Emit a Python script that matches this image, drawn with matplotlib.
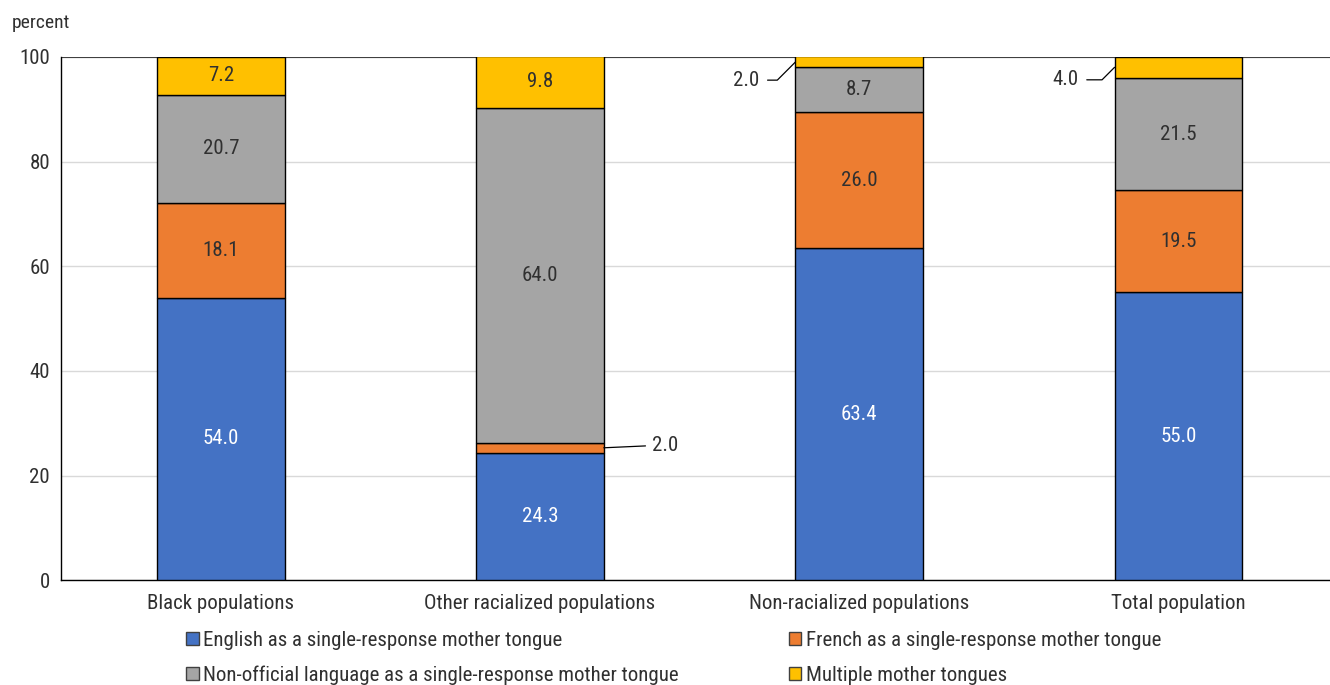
import numpy as np
import matplotlib
matplotlib.use('Agg')
import matplotlib.pyplot as plt
from matplotlib import font_manager
from matplotlib.patches import Patch

# font: condensed look if possible
names = {f.name for f in font_manager.fontManager.ttflist}
fam = 'DejaVu Sans'
for cand in ['Roboto Condensed', 'Liberation Sans Narrow', 'Roboto', 'Liberation Sans']:
    if cand in names:
        fam = cand
        break
plt.rcParams['font.family'] = [fam, 'DejaVu Sans']

categories = ['Black populations', 'Other racialized populations',
              'Non-racialized populations', 'Total population']
series_names = ['English as a single-response mother tongue',
                'French as a single-response mother tongue',
                'Non-official language as a single-response mother tongue',
                'Multiple mother tongues']
english = [54.0, 24.3, 63.4, 55.0]
french = [18.1, 2.0, 26.0, 19.5]
nonofficial = [20.7, 64.0, 8.7, 21.5]
multiple = [7.2, 9.8, 2.0, 4.0]
yticks = [0, 20, 40, 60, 80, 100]

colors = ['#4472C4', '#ED7D31', '#A5A5A5', '#FFC000']
txt = '#303030'
fs = 15

fig = plt.figure(figsize=(13.3, 6.85), dpi=100)
ax = fig.add_axes([0.046, 0.153, 0.96, 0.764])

x = np.arange(len(categories))
w = 0.4
bottom = np.zeros(len(categories))
data = [english, french, nonofficial, multiple]
for i, vals in enumerate(data):
    vals = np.array(vals)
    ax.bar(x, vals, w, bottom=bottom, color=colors[i], edgecolor='black',
           linewidth=1.0, zorder=3, label=series_names[i])
    for j, v in enumerate(vals):
        mid = bottom[j] + v / 2
        if v >= 5:
            c = 'white' if i == 0 else txt
            ax.text(x[j], mid, f'{v:.1f}', ha='center', va='center',
                    fontsize=fs, color=c, zorder=4)
    bottom = bottom + vals

# small segments with leader lines
def leader(j, ymid, side, label, dy=0):
    if side == 'right':
        ax.annotate(label, xy=(x[j] + w / 2, ymid), xytext=(35, 2),
                    textcoords='offset points', ha='left', va='center',
                    fontsize=fs, color=txt,
                    arrowprops=dict(arrowstyle='-', color='black', lw=0.9,
                                    shrinkA=3, shrinkB=0))
    else:
        ax.annotate(label, xy=(x[j] - w / 2, ymid), xytext=(-26, dy),
                    textcoords='offset points', ha='right', va='center',
                    fontsize=fs, color=txt,
                    arrowprops=dict(arrowstyle='-', color='black', lw=0.9,
                                    shrinkA=4, shrinkB=0,
                                    connectionstyle='angle,angleA=0,angleB=45,rad=0'))

leader(1, english[1] + french[1] / 2, 'right', f'{french[1]:.1f}')
leader(2, 100 - multiple[2] / 2, 'left', f'{multiple[2]:.1f}', dy=-13)
leader(3, 100 - multiple[3] / 2, 'left', f'{multiple[3]:.1f}', dy=-9)

ax.set_xlim(-0.5, 3.5)
ax.set_ylim(0, 100)
ax.set_yticks(yticks)
ax.set_xticks(x)
ax.set_xticklabels(categories)
ax.tick_params(axis='both', length=0, labelsize=fs, colors=txt, pad=8)
ax.tick_params(axis='x', pad=10)
ax.grid(axis='y', color='#d9d9d9', linewidth=1, zorder=0)
ax.axhline(100, color='#404040', linewidth=1.5, zorder=2)
for s in ['top', 'right']:
    ax.spines[s].set_visible(False)
ax.spines['left'].set_color('black')
ax.spines['bottom'].set_color('black')
ax.spines['left'].set_linewidth(1.0)
ax.spines['bottom'].set_linewidth(1.0)

fig.text(0.009, 0.967, 'percent', fontsize=14, color=txt, ha='left', va='center')

# row order: English, French / Non-official, Multiple
order = [0, 2, 1, 3]
handles = [Patch(facecolor=colors[i], edgecolor='#404040', label=series_names[i])
           for i in order]
fig.legend(handles=handles, loc='upper left', bbox_to_anchor=(0.14, 0.079),
           ncol=2, frameon=False, fontsize=fs, handlelength=0.6, handleheight=0.6,
           handletextpad=0.2, columnspacing=5.3, labelspacing=0.75,
           labelcolor=txt, borderaxespad=0, borderpad=0)

fig.savefig('out.png', dpi=100)
